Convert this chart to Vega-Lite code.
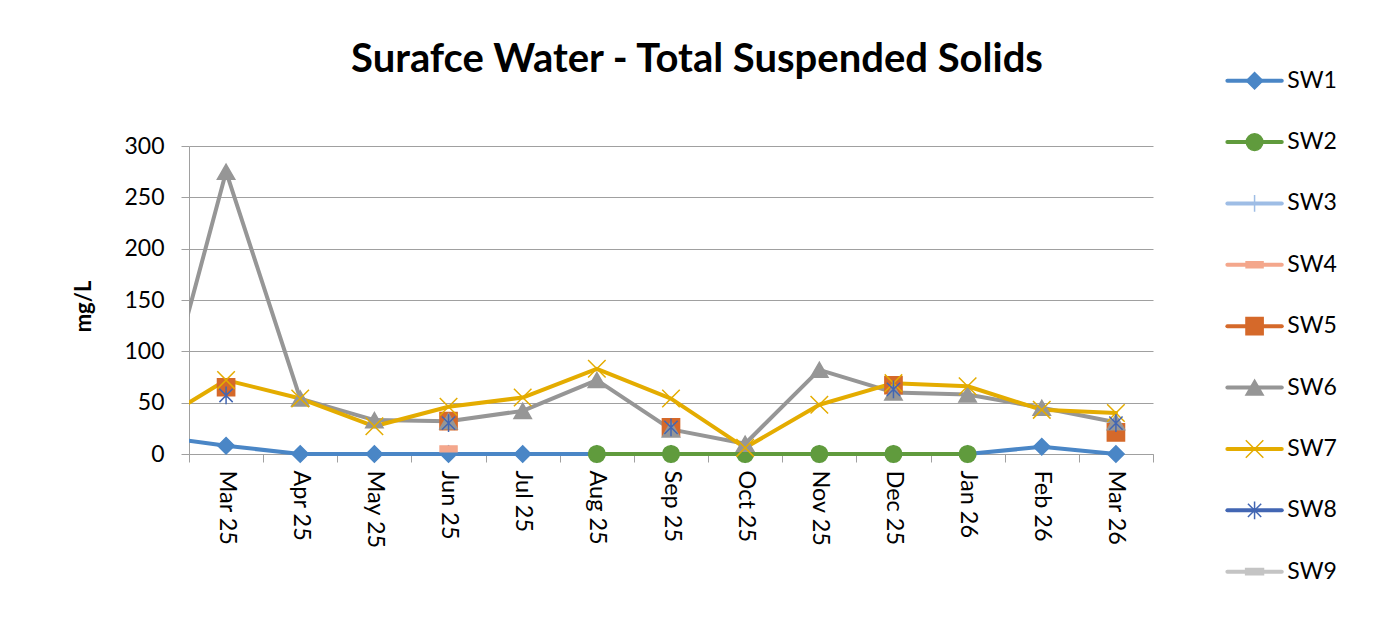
{
  "$schema": "https://vega.github.io/schema/vega-lite/v6.json",
  "width": 964,
  "height": 308,
  "autosize": {"type": "none"},
  "padding": {"left": 189, "top": 146, "right": 224, "bottom": 187},
  "background": "white",
  "config": {
    "view": {"stroke": null},
    "font": "Lato",
    "axis": {"labelFont": "Lato", "titleFont": "Lato", "labelColor": "#000000", "titleColor": "#000000"}
  },
  "title": {
    "text": "Surafce Water - Total Suspended Solids",
    "font": "Lato",
    "fontSize": 40,
    "fontWeight": "bold",
    "color": "#000000",
    "anchor": "middle",
    "frame": "group",
    "dx": 26,
    "offset": -43,
    "baseline": "alphabetic"
  },
  "datasets": {
    "main": [
      {"m": -1, "series": "SW1", "v": 18}, {"m": 0, "series": "SW1", "v": 8}, {"m": 1, "series": "SW1", "v": 0},
      {"m": 2, "series": "SW1", "v": 0}, {"m": 3, "series": "SW1", "v": 0}, {"m": 4, "series": "SW1", "v": 0},
      {"m": 5, "series": "SW1", "v": 0}, {"m": 6, "series": "SW1", "v": 0}, {"m": 7, "series": "SW1", "v": 0},
      {"m": 8, "series": "SW1", "v": 0}, {"m": 9, "series": "SW1", "v": 0}, {"m": 10, "series": "SW1", "v": 0},
      {"m": 11, "series": "SW1", "v": 7}, {"m": 12, "series": "SW1", "v": 0},
      {"m": 5, "series": "SW2", "v": 0}, {"m": 6, "series": "SW2", "v": 0}, {"m": 7, "series": "SW2", "v": 0},
      {"m": 8, "series": "SW2", "v": 0}, {"m": 9, "series": "SW2", "v": 0}, {"m": 10, "series": "SW2", "v": 0},
      {"m": 3, "series": "SW4", "v": 5},
      {"m": 0, "series": "SW5", "v": 65}, {"m": 3, "series": "SW5", "v": 32}, {"m": 6, "series": "SW5", "v": 26},
      {"m": 9, "series": "SW5", "v": 67}, {"m": 12, "series": "SW5", "v": 21},
      {"m": -1, "series": "SW6", "v": 5}, {"m": 0, "series": "SW6", "v": 275}, {"m": 1, "series": "SW6", "v": 54},
      {"m": 2, "series": "SW6", "v": 33}, {"m": 3, "series": "SW6", "v": 32}, {"m": 4, "series": "SW6", "v": 42},
      {"m": 5, "series": "SW6", "v": 72}, {"m": 6, "series": "SW6", "v": 24}, {"m": 7, "series": "SW6", "v": 10},
      {"m": 8, "series": "SW6", "v": 82}, {"m": 9, "series": "SW6", "v": 60}, {"m": 10, "series": "SW6", "v": 58},
      {"m": 11, "series": "SW6", "v": 45}, {"m": 12, "series": "SW6", "v": 31},
      {"m": -1, "series": "SW7", "v": 28}, {"m": 0, "series": "SW7", "v": 72}, {"m": 1, "series": "SW7", "v": 54},
      {"m": 2, "series": "SW7", "v": 27}, {"m": 3, "series": "SW7", "v": 46}, {"m": 4, "series": "SW7", "v": 55},
      {"m": 5, "series": "SW7", "v": 83}, {"m": 6, "series": "SW7", "v": 54}, {"m": 7, "series": "SW7", "v": 6},
      {"m": 8, "series": "SW7", "v": 48}, {"m": 9, "series": "SW7", "v": 69}, {"m": 10, "series": "SW7", "v": 66},
      {"m": 11, "series": "SW7", "v": 43}, {"m": 12, "series": "SW7", "v": 40},
      {"m": 0, "series": "SW8", "v": 57}, {"m": 3, "series": "SW8", "v": 30}, {"m": 6, "series": "SW8", "v": 26},
      {"m": 9, "series": "SW8", "v": 63}, {"m": 12, "series": "SW8", "v": 30}
    ],
    "legend": [
      {"series": "SW1", "k": 1}, {"series": "SW2", "k": 2}, {"series": "SW3", "k": 3},
      {"series": "SW4", "k": 4}, {"series": "SW5", "k": 5}, {"series": "SW6", "k": 6},
      {"series": "SW7", "k": 7}, {"series": "SW8", "k": 8}, {"series": "SW9", "k": 9}
    ]
  },
  "layer": [
    {
      "data": {"name": "main"},
      "layer": [
        {
          "transform": [{"filter": "datum.m <= 0 && (datum.series == 'SW1' || datum.series == 'SW6' || datum.series == 'SW7')"}],
          "mark": {"type": "line", "clip": true, "strokeWidth": 4, "strokeJoin": "round", "strokeCap": "round"},
          "encoding": {
            "x": {
              "field": "m", "type": "quantitative",
              "scale": {"domain": [-0.5, 12.5], "nice": false, "zero": false},
              "axis": {
                "title": null,
                "values": [-0.5, 0.5, 1.5, 2.5, 3.5, 4.5, 5.5, 6.5, 7.5, 8.5, 9.5, 10.5, 11.5, 12.5],
                "labelExpr": "datum.value > 12 ? '' : ['Mar 25','Apr 25','May 25','Jun 25','Jul 25','Aug 25','Sep 25','Oct 25','Nov 25','Dec 25','Jan 26','Feb 26','Mar 26'][round(datum.value + 0.5)]",
                "labelOffset": 37.08,
                "labelAngle": 90,
                "labelAlign": "left",
                "labelBaseline": "middle",
                "labelFontSize": 23.5,
                "labelPadding": 8,
                "labelOverlap": false,
                "labelFlush": false,
                "labelBound": false,
                "tickSize": 8,
                "tickColor": "#A0A0A0",
                "domainColor": "#A0A0A0",
                "grid": false
              }
            },
            "y": {
              "field": "v", "type": "quantitative",
              "scale": {"domain": [0, 300], "nice": false},
              "axis": {
                "title": "mg/L",
                "titleFontSize": 22,
                "titleFontWeight": "bold",
                "titlePadding": 28,
                "titleY": 160,
                "values": [0, 50, 100, 150, 200, 250, 300],
                "labelFontSize": 23,
                "labelPadding": 17,
                "tickSize": 8,
                "tickColor": "#A0A0A0",
                "domainColor": "#A0A0A0",
                "grid": true,
                "gridColor": "#A0A0A0",
                "gridWidth": 1
              }
            },
            "color": {
              "field": "series", "type": "nominal", "legend": null,
              "scale": {
                "domain": ["SW1", "SW2", "SW3", "SW4", "SW5", "SW6", "SW7", "SW8", "SW9"],
                "range": ["#4A86C6", "#609B3D", "#9EBDE5", "#F4A78C", "#D5692A", "#969696", "#E4AC00", "#4266B3", "#C4C4C4"]
              }
            }
          }
        },
        {
          "transform": [{"filter": "datum.m >= 0 && datum.series != 'SW4' && datum.series != 'SW5' && datum.series != 'SW8'"}],
          "mark": {"type": "line", "strokeWidth": 4, "strokeJoin": "round", "strokeCap": "round"},
          "encoding": {
            "x": {"field": "m", "type": "quantitative"},
            "y": {"field": "v", "type": "quantitative"},
            "color": {"field": "series", "type": "nominal", "legend": null}
          }
        },
        {
          "transform": [{"filter": "datum.m >= 0"}],
          "mark": {"type": "point", "filled": true, "opacity": 1, "strokeWidth": 1.5},
          "encoding": {
            "x": {"field": "m", "type": "quantitative"},
            "y": {"field": "v", "type": "quantitative"},
            "shape": {
              "field": "series", "type": "nominal", "legend": null,
              "scale": {
                "domain": ["SW1", "SW2", "SW3", "SW4", "SW5", "SW6", "SW7", "SW8", "SW9"],
                "range": ["diamond", "circle", "M-1,0L1,0M0,-1L0,1", "M-1,-0.35L1,-0.35L1,0.35L-1,0.35Z", "square", "triangle-up", "M-1,-1L1,1M-1,1L1,-1", "M-0.75,-0.75L0.75,0.75M-0.75,0.75L0.75,-0.75M0,-1L0,1", "M-1,-0.35L1,-0.35L1,0.35L-1,0.35Z"]
              }
            },
            "size": {
              "field": "series", "type": "nominal", "legend": null,
              "scale": {
                "domain": ["SW1", "SW2", "SW3", "SW4", "SW5", "SW6", "SW7", "SW8", "SW9"],
                "range": [270, 320, 260, 130, 290, 320, 300, 300, 130]
              }
            },
            "fill": {
              "field": "series", "type": "nominal", "legend": null,
              "scale": {
                "domain": ["SW1", "SW2", "SW3", "SW4", "SW5", "SW6", "SW7", "SW8", "SW9"],
                "range": ["#4A86C6", "#609B3D", "transparent", "#F4A78C", "#D5692A", "#969696", "transparent", "transparent", "#C4C4C4"]
              }
            },
            "stroke": {
              "field": "series", "type": "nominal", "legend": null,
              "scale": {
                "domain": ["SW1", "SW2", "SW3", "SW4", "SW5", "SW6", "SW7", "SW8", "SW9"],
                "range": ["#4A86C6", "#609B3D", "#9EBDE5", "#F4A78C", "#D5692A", "#969696", "#E4AC00", "#4266B3", "#C4C4C4"]
              }
            }
          }
        }
      ]
    },
    {
      "data": {"name": "legend"},
      "layer": [
        {
          "mark": {"type": "rule", "strokeWidth": 4, "strokeCap": "round"},
          "encoding": {
            "x": {"datum": 0, "type": "quantitative", "scale": {"domain": [-19.087, -1.367], "nice": false, "zero": false}, "axis": null},
            "x2": {"datum": 1},
            "y": {"field": "k", "type": "quantitative", "scale": {"domain": [2.064, 7.082], "reverse": true, "nice": false, "zero": false}, "axis": null},
            "color": {"field": "series", "type": "nominal", "legend": null}
          }
        },
        {
          "mark": {"type": "point", "filled": true, "opacity": 1, "strokeWidth": 1.5},
          "encoding": {
            "x": {"datum": 0.5, "type": "quantitative"},
            "y": {"field": "k", "type": "quantitative"},
            "shape": {"field": "series", "type": "nominal", "legend": null},
            "size": {"field": "series", "type": "nominal", "legend": null},
            "fill": {"field": "series", "type": "nominal", "legend": null},
            "stroke": {"field": "series", "type": "nominal", "legend": null}
          }
        },
        {
          "mark": {"type": "text", "align": "left", "baseline": "middle", "dx": 5.6, "fontSize": 23, "font": "Lato", "color": "#000000"},
          "encoding": {
            "x": {"datum": 1, "type": "quantitative"},
            "y": {"field": "k", "type": "quantitative"},
            "text": {"field": "series", "type": "nominal"}
          }
        }
      ]
    }
  ],
  "resolve": {"scale": {"x": "independent", "y": "independent"}}
}
